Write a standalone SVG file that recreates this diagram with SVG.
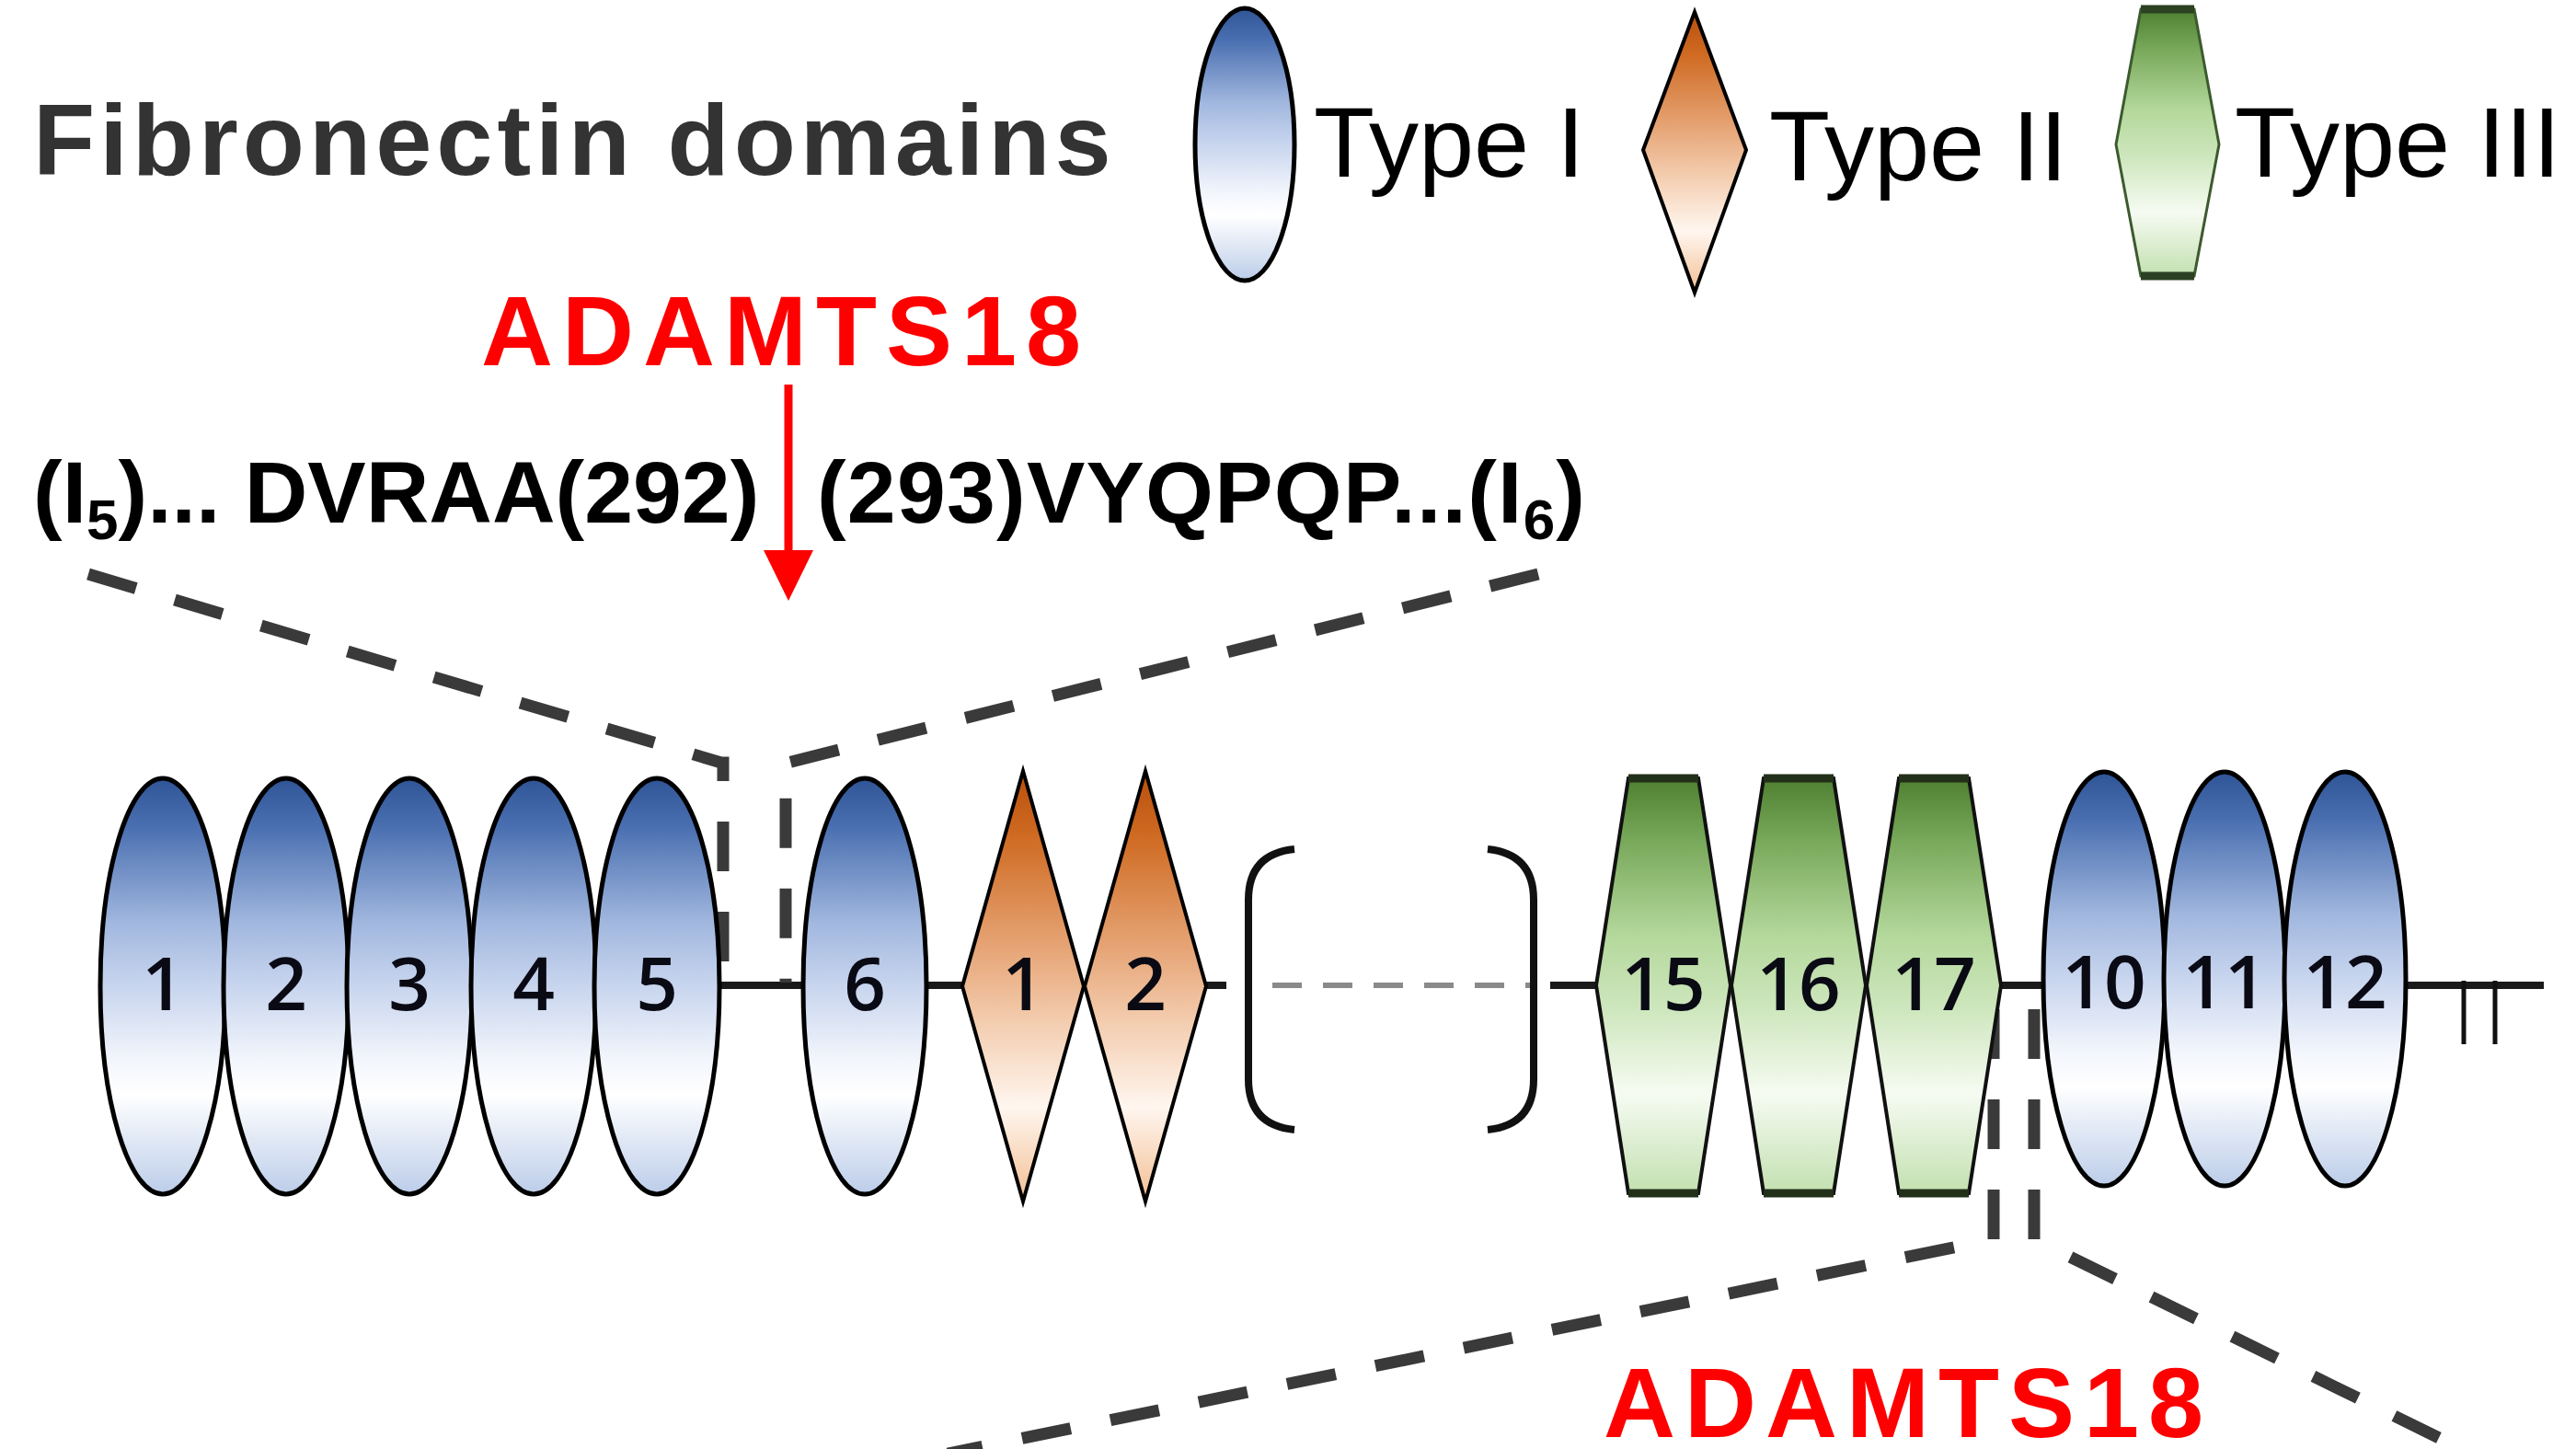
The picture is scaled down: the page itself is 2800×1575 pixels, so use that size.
<svg xmlns="http://www.w3.org/2000/svg" width="2800" height="1575" viewBox="0 0 2800 1575">
<defs>
<linearGradient id="gI" x1="0" y1="0" x2="0" y2="1">
<stop offset="0" stop-color="#2f5597"/>
<stop offset="0.12" stop-color="#4b70b1"/>
<stop offset="0.35" stop-color="#a2b8df"/>
<stop offset="0.5" stop-color="#c8d5ee"/>
<stop offset="0.68" stop-color="#f3f6fc"/>
<stop offset="0.76" stop-color="#ffffff"/>
<stop offset="1" stop-color="#bccde9"/>
</linearGradient>
<linearGradient id="gII" x1="0" y1="0" x2="0" y2="1">
<stop offset="0" stop-color="#b84f0c"/>
<stop offset="0.15" stop-color="#cf6a22"/>
<stop offset="0.4" stop-color="#e5a272"/>
<stop offset="0.58" stop-color="#f3ccae"/>
<stop offset="0.78" stop-color="#fff6ef"/>
<stop offset="1" stop-color="#f2bf94"/>
</linearGradient>
<linearGradient id="gIII" x1="0" y1="0" x2="0" y2="1">
<stop offset="0" stop-color="#4f7f30"/>
<stop offset="0.15" stop-color="#78a85a"/>
<stop offset="0.38" stop-color="#b4d89c"/>
<stop offset="0.55" stop-color="#cde6bc"/>
<stop offset="0.76" stop-color="#f6fbf2"/>
<stop offset="1" stop-color="#c3e0b0"/>
</linearGradient>
<style>
.t1{fill:url(#gI);stroke:#000;stroke-width:5}
.t2{fill:url(#gII);stroke:#000;stroke-width:4;stroke-linejoin:miter}
.t3{fill:url(#gIII);stroke:#111;stroke-width:4}
.bar{stroke:#22301a;stroke-width:9}
.num{font-family:"Open Sans","Noto Sans","DejaVu Sans",sans-serif;font-weight:600;font-size:80px;fill:#0a0a14;text-anchor:middle}
.bb{stroke:#1a1a1a;stroke-width:8;fill:none}
.zoom{stroke:#3a3a3a;stroke-width:13;fill:none;stroke-dasharray:54 44}
.red{font-family:"Liberation Sans",Arial,sans-serif;font-weight:bold;font-size:108px;fill:#ff0000;letter-spacing:10px}
.seq{font-family:"Liberation Sans",Arial,sans-serif;font-weight:bold;font-size:95px;fill:#000}
.leg{font-family:"Liberation Sans",Arial,sans-serif;font-size:108px;fill:#000}
</style>
</defs>
<rect width="2800" height="1575" fill="#fff"/>

<g id="title">
<text x="36" y="190" font-family="Liberation Sans, Arial, sans-serif" font-weight="bold" font-size="110" fill="#333" letter-spacing="5">Fibronectin domains</text>
</g>

<g id="legend">
<g id="legend-type1">
<ellipse class="t1" cx="1353" cy="157" rx="54" ry="148"/>
<text class="leg" x="1428" y="192">Type I</text>
</g>
<g id="legend-type2">
<polygon class="t2" points="1842,13 1898,163 1842,318 1786,163"/>
<text class="leg" x="1923" y="196">Type II</text>
</g>
<g id="legend-type3">
<polygon points="2327,10 2385,10 2412,157 2385,300 2327,300 2300,157" fill="url(#gIII)" stroke="#3d5a2f" stroke-width="3"/>
<line x1="2327" y1="10" x2="2385" y2="10" stroke="#2c4022" stroke-width="9"/>
<line x1="2327" y1="300" x2="2385" y2="300" stroke="#2c4022" stroke-width="9"/>
<text class="leg" x="2429" y="192">Type III</text>
</g>
</g>

<g id="cleavage-top">
<text class="red" x="523" y="397">ADAMTS18</text>
<text class="seq" x="36" y="568">(I<tspan font-size="62" dy="18">5</tspan><tspan dy="-18">)... DVRAA(292)</tspan></text>
<text class="seq" x="888" y="568" textLength="835" lengthAdjust="spacing">(293)VYQPQP...(I<tspan font-size="62" dy="18">6</tspan><tspan dy="-18">)</tspan></text>
</g>

<g id="connectors">
<line class="bb" x1="781" y1="1071" x2="1333" y2="1071"/>
<line class="bb" x1="1685" y1="1071" x2="2765" y2="1071"/>
<line x1="2678" y1="1066" x2="2678" y2="1135" stroke="#111" stroke-width="5"/>
<line x1="2712" y1="1066" x2="2712" y2="1135" stroke="#111" stroke-width="5"/>
<line x1="1383" y1="1071" x2="1668" y2="1071" stroke="#8a8a8a" stroke-width="6" stroke-dasharray="32 23"/>
<polyline class="zoom" points="96,624 784,829 786,829 786,1068"/>
<polyline class="zoom" points="1672,624 856,829 854,829 854,1068"/>
<polyline class="zoom" points="2167,1097 2167,1347 1030,1580"/>
<polyline class="zoom" points="2211,1097 2211,1347 2690,1582"/>
<line x1="857" y1="418" x2="857" y2="602" stroke="#ff0000" stroke-width="9"/>
<polygon points="830,598 884,598 857,653" fill="#ff0000"/>
</g>

<g id="bracket">
<path d="M1407,923 Q1357,928 1357,978 L1357,1173 Q1357,1223 1407,1228" fill="none" stroke="#111" stroke-width="8"/>
<path d="M1617,923 Q1667,928 1667,978 L1667,1173 Q1667,1223 1617,1228" fill="none" stroke="#111" stroke-width="8"/>
</g>

<g id="node-I1"><ellipse class="t1" cx="177" cy="1072" rx="68" ry="226"/><text class="num" x="177" y="1098">1</text></g>
<g id="node-I2"><ellipse class="t1" cx="311" cy="1072" rx="68" ry="226"/><text class="num" x="311" y="1098">2</text></g>
<g id="node-I3"><ellipse class="t1" cx="445" cy="1072" rx="68" ry="226"/><text class="num" x="445" y="1098">3</text></g>
<g id="node-I4"><ellipse class="t1" cx="580" cy="1072" rx="68" ry="226"/><text class="num" x="580" y="1098">4</text></g>
<g id="node-I5"><ellipse class="t1" cx="714" cy="1072" rx="68" ry="226"/><text class="num" x="714" y="1098">5</text></g>
<g id="node-I6"><ellipse class="t1" cx="940" cy="1072" rx="67" ry="226"/><text class="num" x="940" y="1098">6</text></g>

<g id="node-II1"><polygon class="t2" points="1112,838 1178,1072 1112,1306 1046,1072"/><text class="num" x="1112" y="1098">1</text></g>
<g id="node-II2"><polygon class="t2" points="1245,838 1311,1072 1245,1306 1179,1072"/><text class="num" x="1245" y="1098">2</text></g>

<g id="node-III15"><polygon class="t3" points="1770,846 1846,846 1881,1071 1846,1297 1770,1297 1735,1071"/><line class="bar" x1="1770" y1="846" x2="1846" y2="846"/><line class="bar" x1="1770" y1="1297" x2="1846" y2="1297"/><text class="num" x="1808" y="1098">15</text></g>
<g id="node-III16"><polygon class="t3" points="1917,846 1993,846 2028,1071 1993,1297 1917,1297 1882,1071"/><line class="bar" x1="1917" y1="846" x2="1993" y2="846"/><line class="bar" x1="1917" y1="1297" x2="1993" y2="1297"/><text class="num" x="1955" y="1098">16</text></g>
<g id="node-III17"><polygon class="t3" points="2064,846 2140,846 2175,1071 2140,1297 2064,1297 2029,1071"/><line class="bar" x1="2064" y1="846" x2="2140" y2="846"/><line class="bar" x1="2064" y1="1297" x2="2140" y2="1297"/><text class="num" x="2102" y="1098">17</text></g>

<g id="node-I10"><ellipse class="t1" cx="2287" cy="1064" rx="66" ry="225"/><text class="num" x="2287" y="1096">10</text></g>
<g id="node-I11"><ellipse class="t1" cx="2418" cy="1064" rx="66" ry="225"/><text class="num" x="2418" y="1096">11</text></g>
<g id="node-I12"><ellipse class="t1" cx="2549" cy="1064" rx="66" ry="225"/><text class="num" x="2549" y="1096">12</text></g>

<g id="cleavage-bottom">
<text class="red" x="1743" y="1562">ADAMTS18</text>
</g>
</svg>
